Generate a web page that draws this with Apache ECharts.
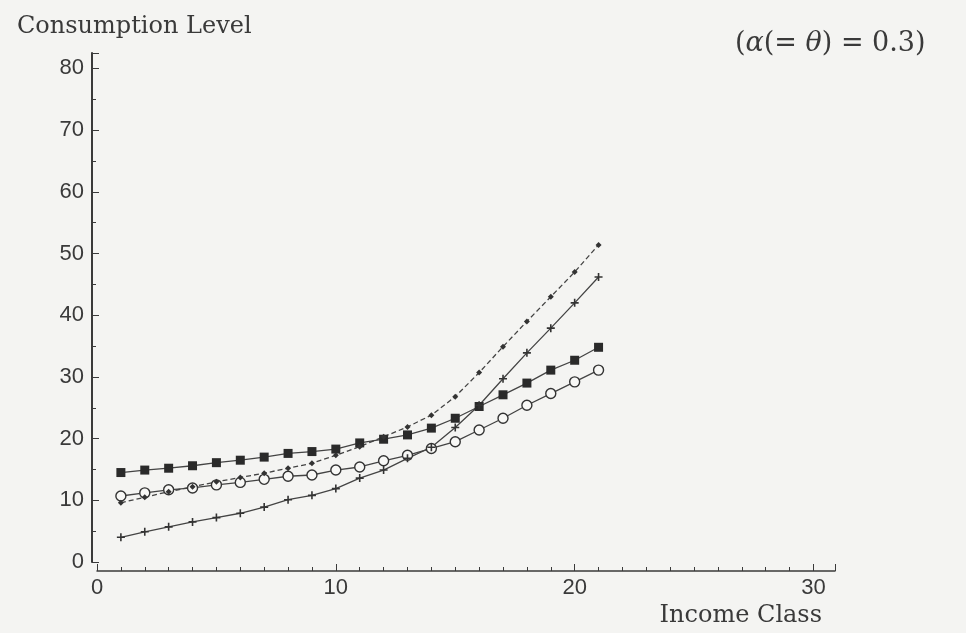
<!DOCTYPE html>
<html>
<head>
<meta charset="utf-8">
<script src="https://cdn.jsdelivr.net/npm/echarts@6/dist/echarts.min.js"></script>
<style>
  html, body { margin: 0; padding: 0; background: #f4f4f2; }
  #chart { width: 966px; height: 633px; }
</style>
</head>
<body>
<div id="chart"></div>
<script>
// Income classes 1..21
const incomeClasses = [1,2,3,4,5,6,7,8,9,10,11,12,13,14,15,16,17,18,19,20,21];

// Consumption level per income class, one array per model variant
const filledSquares = [14.5,14.9,15.2,15.6,16.1,16.5,17.0,17.6,17.9,18.3,19.3,19.9,20.6,21.7,23.3,25.2,27.1,29.0,31.1,32.7,34.8];
const openCircles   = [10.7,11.2,11.7,12.0,12.5,12.9,13.4,13.9,14.1,14.9,15.4,16.4,17.3,18.4,19.5,21.4,23.3,25.4,27.3,29.2,31.1];
const dashedDots    = [9.6,10.5,11.4,12.2,13.0,13.7,14.4,15.2,16.0,17.3,18.7,20.3,21.9,23.8,26.8,30.7,34.9,39.0,43.0,47.0,51.4];
const plusMarks     = [4.0,4.9,5.7,6.5,7.2,7.9,8.9,10.1,10.8,11.9,13.6,14.9,16.8,18.6,21.8,25.4,29.7,33.9,37.9,42.0,46.2];

const xTicks = [0, 10, 20, 30];
const yTicks = [0, 10, 20, 30, 40, 50, 60, 70, 80];

const ink = '#3a3a3a';
const pair = arr => incomeClasses.map((x, i) => [x, arr[i]]);
const plusPath = 'path://M4,0 L6,0 L6,4 L10,4 L10,6 L6,6 L6,10 L4,10 L4,6 L0,6 L0,4 L4,4 Z';

const chart = echarts.init(document.getElementById('chart'), null, { renderer: 'canvas' });

chart.setOption({
  backgroundColor: '#f4f4f2',
  animation: false,
  grid: { left: 97, right: 131, top: 53, bottom: 71 },
  xAxis: {
    type: 'value',
    min: 0, max: 30.9, interval: 10,
    offset: 9,
    axisLine: { show: true, onZero: false, lineStyle: { color: ink, width: 1.5 } },
    axisTick: { show: true, inside: true, length: 7, lineStyle: { color: ink } },
    minorTick: { show: true, splitNumber: 10, length: 4, lineStyle: { color: ink } },
    splitLine: { show: false },
    axisLabel: {
      color: ink, fontFamily: 'Liberation Sans', fontSize: 22, margin: 6,
      formatter: v => xTicks.includes(v) ? String(v) : ''
    }
  },
  yAxis: {
    type: 'value',
    min: 0, max: 82.5, interval: 10,
    offset: 5,
    axisLine: { show: true, onZero: false, lineStyle: { color: ink, width: 2 } },
    axisTick: { show: true, inside: true, length: 7, lineStyle: { color: ink } },
    minorTick: { show: true, splitNumber: 2, length: 4, lineStyle: { color: ink } },
    splitLine: { show: false },
    axisLabel: {
      color: ink, fontFamily: 'Liberation Sans', fontSize: 22, margin: 8,
      formatter: v => yTicks.includes(v) ? String(v) : ''
    }
  },
  graphic: [
    {
      type: 'text', left: 17, top: 15,
      style: { text: 'Consumption Level', fill: ink, font: '24px "DejaVu Serif"' }
    },
    {
      type: 'text', right: 144, top: 604,
      style: { text: 'Income Class', fill: ink, font: '24px "DejaVu Serif"' }
    },
    {
      type: 'text', left: 735, top: 30,
      style: {
        text: '({i|α}(= {i|θ}) = 0.3)',
        fill: ink, font: '27px "DejaVu Serif"',
        rich: { i: { fontStyle: 'italic', fontFamily: 'DejaVu Serif', fontSize: 27, fill: ink } }
      }
    }
  ],
  series: [
    {
      name: 'filled', type: 'line', data: pair(filledSquares),
      symbol: 'rect', symbolSize: 9,
      itemStyle: { color: '#2a2a2a' },
      lineStyle: { color: '#444', width: 1.3 }
    },
    {
      name: 'open', type: 'line', data: pair(openCircles),
      symbol: 'circle', symbolSize: 10,
      itemStyle: { color: '#f8f8f6', borderColor: '#333', borderWidth: 1.4 },
      lineStyle: { color: '#444', width: 1.3 }
    },
    {
      name: 'dashed', type: 'line', data: pair(dashedDots),
      symbol: 'diamond', symbolSize: 6,
      itemStyle: { color: '#333' },
      lineStyle: { color: '#444', width: 1.3, type: [5, 3] }
    },
    {
      name: 'plus', type: 'line', data: pair(plusMarks),
      symbol: plusPath, symbolSize: 8,
      itemStyle: { color: '#333' },
      lineStyle: { color: '#444', width: 1.3 }
    }
  ]
});
</script>
</body>
</html>
